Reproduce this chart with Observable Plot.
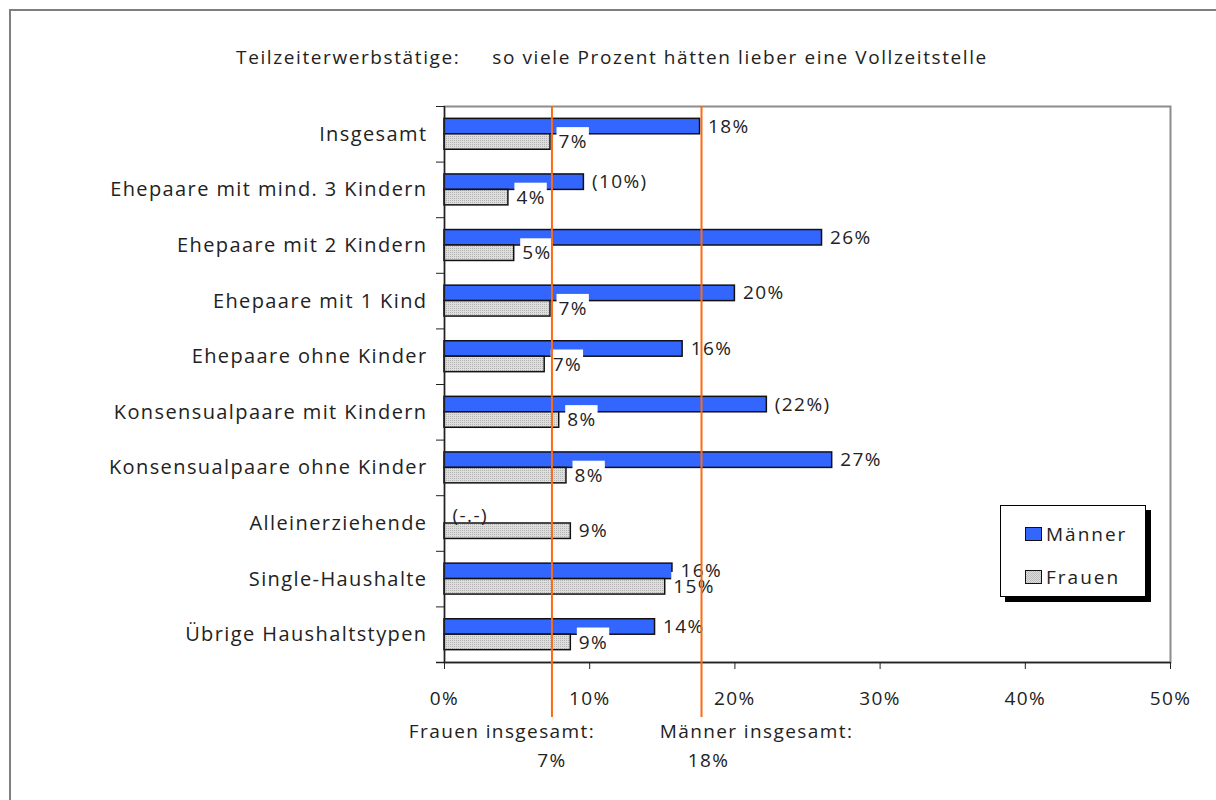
<!DOCTYPE html>
<html>
<head>
<meta charset="utf-8">
<script src="https://cdn.jsdelivr.net/npm/d3@7"></script>
<script src="https://cdn.jsdelivr.net/npm/@observablehq/plot@0.6"></script>
<style>
  html, body { margin: 0; padding: 0; background: #fff; overflow: hidden; }
  #wrap { position: relative; width: 1216px; height: 800px; overflow: hidden; font-family: "Open Sans", sans-serif; color: #222; }
  #outer { position: absolute; left: 9px; top: 9px; width: 1300px; height: 900px; border: 2px solid #7f7f7f; box-sizing: border-box; pointer-events: none; }
  #title { height: 45px; padding-top: 45px; padding-left: 8px; text-align: center; font-size: 19px; line-height: 24px; letter-spacing: 1.6px; white-space: pre; }
  #title .gap { display: inline-block; width: 32px; }
  #chart { height: 710px; }
  #chart svg text { letter-spacing: 1.4px; }
  #legend { position: absolute; left: 1000px; top: 505px; width: 146px; height: 92px; box-sizing: border-box; border: 1.5px solid #000; background: #fff; box-shadow: 5px 5px 0 #000; }
  #legend .item { position: absolute; left: 24px; height: 20px; display: flex; align-items: center; font-size: 19px; letter-spacing: 2px; }
  #legend .sw { display: inline-block; width: 17px; height: 14px; box-sizing: border-box; border: 1.5px solid #111; margin-right: 4px; }
</style>
</head>
<body>
<div id="wrap">
  <div id="outer"></div>
  <div id="title"></div>
  <div id="chart"></div>
  <div id="legend"></div>
</div>
<script>
// ---- data ----
const titleLeft = "Teilzeiterwerbstätige:";
const titleRight = "so viele Prozent hätten lieber eine Vollzeitstelle";
const categories = [
  "Insgesamt",
  "Ehepaare mit mind. 3 Kindern",
  "Ehepaare mit 2 Kindern",
  "Ehepaare mit 1 Kind",
  "Ehepaare ohne Kinder",
  "Konsensualpaare mit Kindern",
  "Konsensualpaare ohne Kinder",
  "Alleinerziehende",
  "Single-Haushalte",
  "Übrige Haushaltstypen"
];
const series = ["Männer", "Frauen"];
const maenner = [17.6, 9.6, 26.0, 20.0, 16.4, 22.2, 26.7, null, 15.7, 14.5];
const frauen  = [7.3, 4.4, 4.8, 7.3, 6.9, 7.9, 8.4, 8.7, 15.2, 8.7];
const maennerLabels = ["18%", "(10%)", "26%", "20%", "16%", "(22%)", "27%", "(-.-)", "16%", "14%"];
const frauenLabels  = ["7%", "4%", "5%", "7%", "7%", "8%", "8%", "9%", "15%", "9%"];
const totalNames  = ["Frauen insgesamt:", "Männer insgesamt:"];
const totalValues = [7.4, 17.7];
const totalLabels = ["7%", "18%"];
const xTicks = [0, 10, 20, 30, 40, 50];

// ---- colours ----
const blue = "#3366ff";
const orange = "#ff6a10";
const ink = "#222";

// ---- title & legend (HTML) ----
document.getElementById("title").innerHTML =
  `${titleLeft}<span class="gap"></span>${titleRight}`;
const legend = document.getElementById("legend");
series.forEach((s, i) => {
  const item = document.createElement("div");
  item.className = "item";
  item.style.top = (i === 0 ? 18 : 61) + "px";
  const sw = document.createElement("span");
  sw.className = "sw";
  sw.style.background = i === 0 ? blue
    : "repeating-conic-gradient(#bcbcbc 0 25%, #dedede 0 50%) 0 0 / 2px 2px";
  const tx = document.createElement("span");
  tx.textContent = s;
  item.append(sw, tx);
  legend.append(item);
});

// ---- chart ----
const rows = categories.map((c, i) => ({c, m: maenner[i], f: frauen[i], ml: maennerLabels[i], fl: frauenLabels[i]}));
const totals = totalValues.map((v, i) => ({v, name: totalNames[i], label: totalLabels[i]}));

const W = 1216, H = 710, MT = 16, MB = 138, ML = 444, MR = 46;
const bw = (H - MT - MB) / categories.length;
const edge = bw * 0.222;
const labelOff = (bw / 2 - edge) / 2;

const svg = Plot.plot({
  width: W, height: H,
  marginTop: MT, marginBottom: MB, marginLeft: ML, marginRight: MR,
  x: {domain: [0, 50]},
  y: {domain: categories, padding: 0, round: false},
  style: {fontFamily: "'Open Sans', sans-serif", color: ink, background: "transparent", overflow: "visible"},
  marks: [
    Plot.frame({stroke: "#8c8c8c", strokeWidth: 2}),
    Plot.barX(rows, {x: "m", y: "c", fill: blue, stroke: "#111", strokeWidth: 1.5, insetTop: edge, insetBottom: bw / 2}),
    Plot.barX(rows, {x: "f", y: "c", fill: "url(#dots)", stroke: "#111", strokeWidth: 1.5, insetTop: bw / 2, insetBottom: edge}),
    Plot.ruleX([0], {stroke: ink, strokeWidth: 1.3}),
    Plot.ruleY([categories[categories.length - 1]], {dy: bw / 2, insetLeft: -8, stroke: ink, strokeWidth: 1.3}),
    Plot.axisY({tickSize: 8, fill: "none", dy: -bw / 2, stroke: ink, label: null}),
    Plot.axisY({tickSize: 0, tickPadding: 17, fontSize: 20, label: null, fill: ink}),
    Plot.axisX(xTicks, {tickSize: 7, tickPadding: 22, tickFormat: d => d + "%", fontSize: 19, label: null, stroke: ink, fill: ink}),
    Plot.text(rows, {x: "f", y: "c", text: "fl", dx: 8, dy: labelOff, textAnchor: "start", fontSize: 19, fill: ink}),
    Plot.text(rows, {x: d => d.m ?? 0, y: "c", text: "ml", dx: 8, dy: -labelOff, textAnchor: "start", fontSize: 19, fill: ink}),
    Plot.ruleX(totals, {x: "v", stroke: orange, strokeWidth: 2, insetBottom: -55}),
    Plot.text(totals.slice(0, 1), {x: "v", text: "name", frameAnchor: "bottom", dy: 75, dx: -50, fontSize: 19, fill: ink}),
    Plot.text(totals.slice(1, 2), {x: "v", text: "name", frameAnchor: "bottom", dy: 75, dx: 55, fontSize: 19, fill: ink}),
    Plot.text(totals.slice(0, 1), {x: "v", text: "label", frameAnchor: "bottom", dy: 104, dx: 0, fontSize: 19, fill: ink}),
    Plot.text(totals.slice(1, 2), {x: "v", text: "label", frameAnchor: "bottom", dy: 104, dx: 7, fontSize: 19, fill: ink})
  ]
});

const ns = "http://www.w3.org/2000/svg";
const defs = document.createElementNS(ns, "defs");
defs.innerHTML = '<pattern id="dots" width="2" height="2" patternUnits="userSpaceOnUse">' +
  '<rect width="2" height="2" fill="#dedede"></rect><rect width="1" height="1" fill="#b4b4b4"></rect></pattern>';
svg.insertBefore(defs, svg.firstChild);
document.getElementById("chart").append(svg);

// white boxes behind the women's value labels (as in the original)
const textGroups = svg.querySelectorAll('g[aria-label="text"]');
const womenGroup = textGroups[0];
if (womenGroup) {
  womenGroup.querySelectorAll("text").forEach(t => {
    const b = t.getBBox();
    const r = document.createElementNS(ns, "rect");
    r.setAttribute("x", b.x - 2);
    r.setAttribute("y", b.y - 1);
    r.setAttribute("width", b.width + 3);
    r.setAttribute("height", b.height - 3);
    r.setAttribute("fill", "#fff");
    r.setAttribute("stroke", "none");
    if (t.getAttribute("transform")) r.setAttribute("transform", t.getAttribute("transform"));
    t.parentNode.insertBefore(r, t);
  });
}
// keep the orange reference lines above the label boxes
svg.querySelectorAll('g[aria-label="rule"]').forEach(g => {
  if (g.getAttribute("stroke") === orange) svg.appendChild(g);
});
</script>
</body>
</html>
